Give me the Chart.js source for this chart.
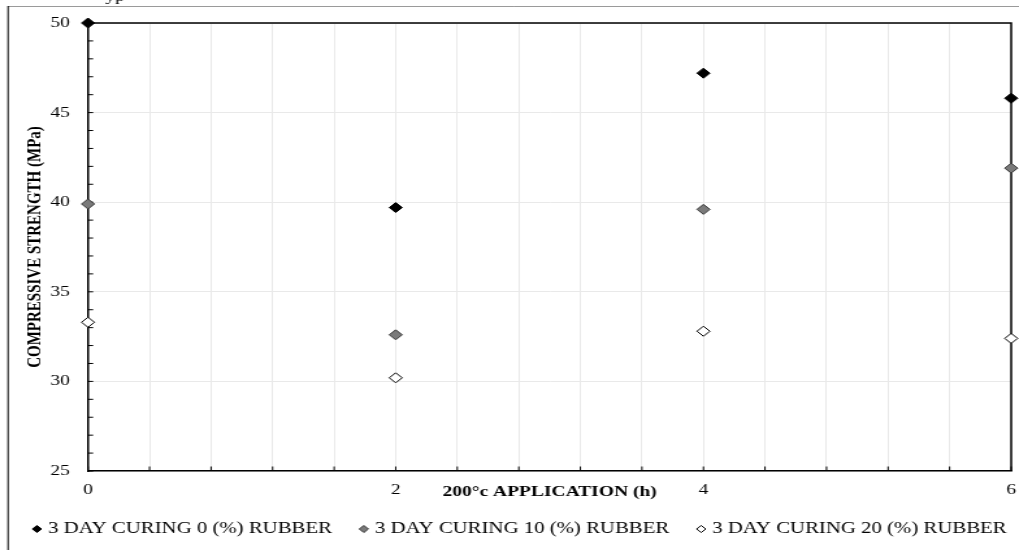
<!DOCTYPE html>
<html>
<head>
<meta charset="utf-8">
<script src="https://cdn.jsdelivr.net/npm/chart.js@4/dist/chart.umd.min.js"></script>
<style>
  html, body { margin: 0; padding: 0; background: #fff; }
  /* the source chart is stretched sideways, so draw narrow and widen */
  #wrap { position: absolute; left: 0; top: 0; width: 784px; height: 550px; transform: scaleX(1.2997); transform-origin: 0 0; }
</style>
</head>
<body>
<div id="wrap"><canvas id="strengthChart"></canvas></div>
<script>
const hours = [0, 2, 4, 6];
const rubber0 = [50, 39.7, 47.2, 45.8];
const rubber10 = [39.9, 32.6, 39.6, 41.9];
const rubber20 = [33.3, 30.2, 32.8, 32.4];
const seriesLabels = ['3 DAY CURING 0 (%) RUBBER', '3 DAY CURING 10 (%) RUBBER', '3 DAY CURING 20 (%) RUBBER'];
const xTickLabels = [0, 2, 4, 6];
const yTickLabels = [25, 30, 35, 40, 45, 50];

const FONT = "'Liberation Serif', 'Times New Roman', serif";

const toPoints = (values) => hours.map((h, i) => ({ x: h, y: values[i] }));

// Frame, inward tick marks and the outer border of the figure
const framePlugin = {
    id: 'frame',
    beforeDraw(chart) {
        const ctx = chart.ctx;
        ctx.save();
        ctx.lineWidth = 1;
        ctx.strokeStyle = '#9a9a9a';
        ctx.beginPath();
        ctx.moveTo(6.2, 6.5);
        ctx.lineTo(chart.width, 6.5);
        ctx.stroke();
        ctx.strokeStyle = '#000';
        ctx.beginPath();
        ctx.moveTo(6.2, 6);
        ctx.lineTo(6.2, chart.height);
        ctx.stroke();
        // cut-off caption above the figure
        ctx.fillStyle = '#000';
        ctx.font = '15px ' + FONT;
        ctx.textBaseline = 'alphabetic';
        ctx.fillText('yp', 81, 1);
        ctx.restore();
    },
    beforeDatasetsDraw(chart) {
        const { ctx, chartArea: a, scales: { x, y } } = chart;
        ctx.save();
        ctx.strokeStyle = '#000';
        ctx.lineWidth = 1;
        ctx.beginPath();
        x.ticks.forEach(t => {
            const px = x.getPixelForValue(t.value);
            ctx.moveTo(px, a.bottom);
            ctx.lineTo(px, a.bottom - 4.5);
        });
        y.ticks.forEach(t => {
            const py = y.getPixelForValue(t.value);
            ctx.moveTo(a.left, py);
            ctx.lineTo(a.left + 4, py);
        });
        ctx.stroke();
        ctx.lineWidth = 1.5;
        ctx.beginPath();
        ctx.moveTo(a.left, a.top);
        ctx.lineTo(a.right, a.top);
        ctx.lineTo(a.right, a.bottom);
        ctx.stroke();
        ctx.restore();
    }
};

const ctx = document.getElementById('strengthChart').getContext('2d');
new Chart(ctx, {
    type: 'scatter',
    data: {
        datasets: [
            {
                label: seriesLabels[0],
                data: toPoints(rubber0),
                backgroundColor: '#000',
                borderColor: '#000'
            },
            {
                label: seriesLabels[1],
                data: toPoints(rubber10),
                backgroundColor: '#7a7a7a',
                borderColor: '#333'
            },
            {
                label: seriesLabels[2],
                data: toPoints(rubber20),
                backgroundColor: '#fff',
                borderColor: '#000'
            }
        ].map(ds => ({
            ...ds,
            pointStyle: 'rectRot',
            pointRadius: 5,
            pointHoverRadius: 5,
            borderWidth: 1,
            clip: false
        }))
    },
    options: {
        responsive: true,
        maintainAspectRatio: false,
        animation: false,
        layout: {
            padding: { left: 23, right: 4.6, top: 20, bottom: 3 }
        },
        plugins: {
            tooltip: { enabled: false },
            legend: {
                position: 'bottom',
                labels: {
                    usePointStyle: true,
                    boxWidth: 1,
                    boxHeight: 5,
                    padding: 0,
                    color: '#000',
                    font: { family: FONT, size: 16 },
                    // trailing spaces make the gap between entries
                    generateLabels: (chart) => Chart.defaults.plugins.legend.labels.generateLabels(chart)
                        .map((item, i) => {
                            if (i < 2) item.text += '      ';
                            return item;
                        })
                }
            }
        },
        scales: {
            x: {
                type: 'linear',
                min: 0,
                max: 6,
                afterFit: (scale) => {
                    scale.height = 50;
                    scale.paddingLeft = 0;
                    scale.paddingRight = 0;
                },
                ticks: {
                    stepSize: 0.4,
                    autoSkip: false,
                    maxRotation: 0,
                    padding: 10,
                    color: '#000',
                    font: { family: FONT, size: 15 },
                    callback: (v) => {
                        const r = Math.round(v * 100) / 100;
                        return xTickLabels.includes(r) ? String(r) : '';
                    }
                },
                grid: { color: '#e9e9e9', drawTicks: false },
                border: { color: '#000', width: 1.5 },
                title: {
                    display: true,
                    text: '200°c APPLICATION (h)',
                    color: '#000',
                    font: { family: FONT, size: 15, weight: 'bold' },
                    padding: { top: 0, bottom: 20 }
                }
            },
            y: {
                min: 25,
                max: 50,
                afterFit: (scale) => { scale.width = 44.7; },
                ticks: {
                    stepSize: 1,
                    autoSkip: false,
                    padding: 14,
                    color: '#000',
                    font: { family: FONT, size: 15 },
                    callback: (v) => yTickLabels.includes(v) ? String(v) : ''
                },
                grid: {
                    color: (c) => (c.tick && yTickLabels.includes(c.tick.value)) ? '#e9e9e9' : 'rgba(0,0,0,0)',
                    drawTicks: false
                },
                border: { color: '#000', width: 1.5 },
                title: {
                    display: true,
                    text: 'COMPRESSIVE STRENGTH (MPa)',
                    color: '#000',
                    font: { family: FONT, size: 15, weight: 'bold' },
                    padding: { top: -5.1, bottom: 0 }
                }
            }
        }
    },
    plugins: [framePlugin]
});
</script>
</body>
</html>
